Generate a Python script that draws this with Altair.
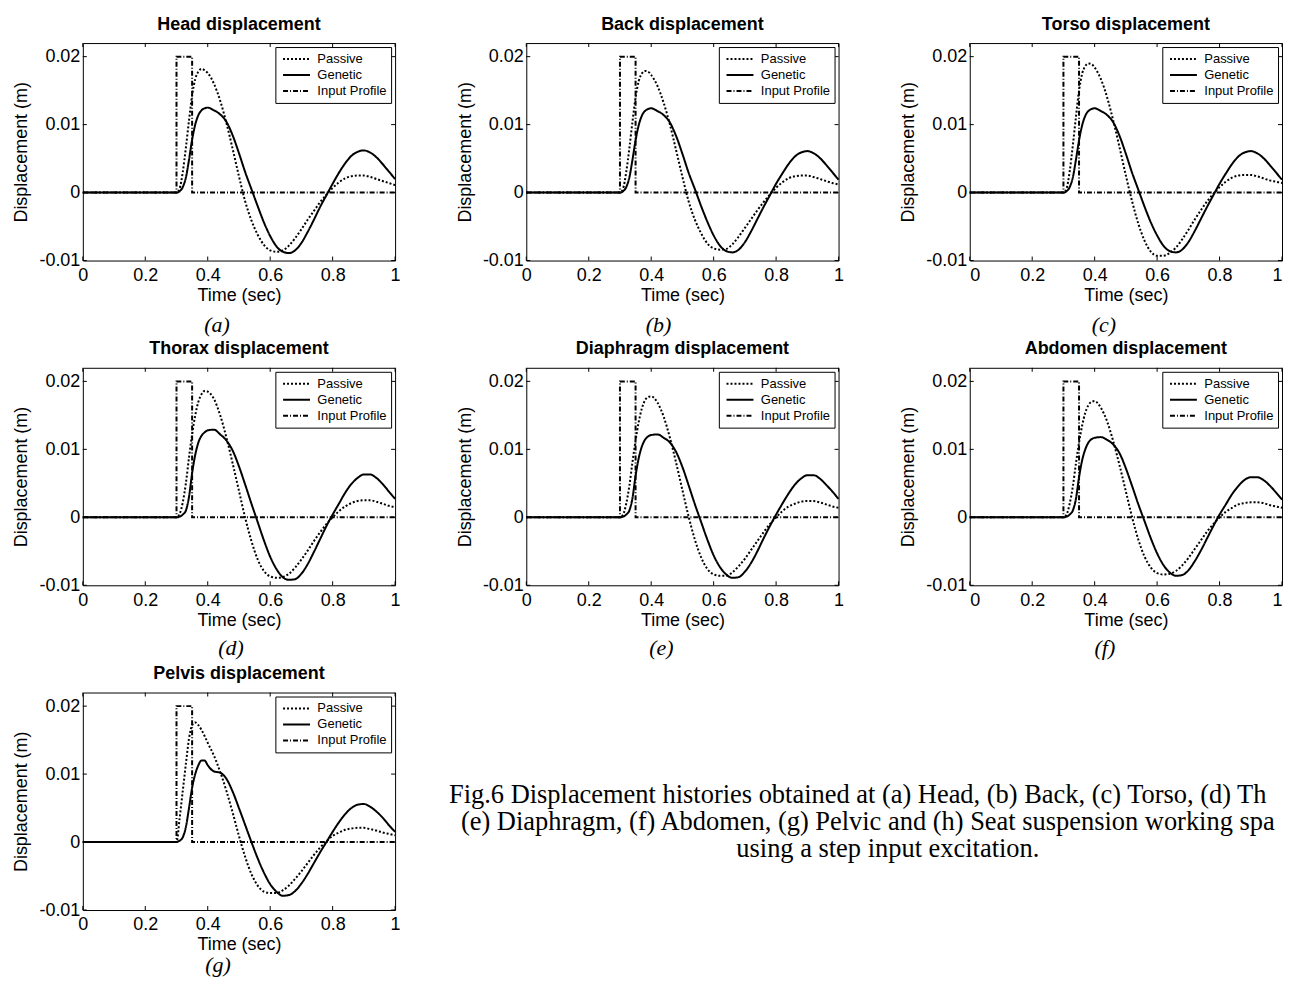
import altair as alt
import pandas as pd

# ---------------- data ----------------
T = [0.0, 0.30, 0.31, 0.32, 0.33, 0.34, 0.35, 0.36, 0.37, 0.38, 0.39, 0.40,
     0.42, 0.44, 0.46, 0.48, 0.50, 0.52, 0.54, 0.56, 0.58, 0.60, 0.62, 0.64,
     0.66, 0.68, 0.70, 0.72, 0.74, 0.76, 0.78, 0.80, 0.82, 0.84, 0.86, 0.88,
     0.90, 0.92, 0.94, 0.96, 0.98, 1.00]

head_passive = [0, 0, 0.0006, 0.0030, 0.0066, 0.0106, 0.0143, 0.0167, 0.0178, 0.0182, 0.0180, 0.0176,
                0.0160, 0.0135, 0.0102, 0.0064, 0.0024, -0.0013, -0.0041, -0.0062, -0.0077, -0.0085, -0.0087, -0.0085,
                -0.0078, -0.0067, -0.0054, -0.0040, -0.0027, -0.0014, -0.0003, 0.0007, 0.0015, 0.0021, 0.0024, 0.0025,
                0.0025, 0.0023, 0.0020, 0.0017, 0.0014, 0.0011]
head_genetic = [0, 0, 0.0002, 0.0008, 0.0022, 0.0048, 0.0078, 0.0100, 0.0114, 0.0121, 0.0124, 0.0125,
                0.0121, 0.0115, 0.0104, 0.0084, 0.0058, 0.0030, 0.0005, -0.0020, -0.0044, -0.0064, -0.0079, -0.0087,
                -0.0089, -0.0085, -0.0074, -0.0058, -0.0040, -0.0021, -0.0004, 0.0013, 0.0029, 0.0043, 0.0054, 0.0060,
                0.0062, 0.0059, 0.0052, 0.0042, 0.0031, 0.0020]

back_passive = [0, 0, 0.0006, 0.0030, 0.0065, 0.0104, 0.0140, 0.0164, 0.0175, 0.0179, 0.0178, 0.0173,
                0.0157, 0.0132, 0.0100, 0.0062, 0.0023, -0.0013, -0.0040, -0.0060, -0.0075, -0.0082, -0.0084, -0.0083,
                -0.0076, -0.0065, -0.0052, -0.0039, -0.0026, -0.0014, -0.0003, 0.0007, 0.0015, 0.0021, 0.0024, 0.0025,
                0.0025, 0.0023, 0.0020, 0.0017, 0.0014, 0.0012]
back_genetic = [0, 0, 0.0002, 0.0008, 0.0022, 0.0048, 0.0077, 0.0099, 0.0113, 0.0120, 0.0123, 0.0124,
                0.0120, 0.0114, 0.0103, 0.0083, 0.0057, 0.0029, 0.0005, -0.0020, -0.0043, -0.0063, -0.0078, -0.0086,
                -0.0088, -0.0084, -0.0073, -0.0057, -0.0039, -0.0021, -0.0004, 0.0013, 0.0028, 0.0042, 0.0053, 0.0059,
                0.0061, 0.0058, 0.0051, 0.0041, 0.0030, 0.0019]

torso_passive = [0, 0, 0.0006, 0.0031, 0.0069, 0.0111, 0.0150, 0.0175, 0.0186, 0.0190, 0.0189, 0.0184,
                 0.0167, 0.0140, 0.0105, 0.0066, 0.0025, -0.0013, -0.0046, -0.0071, -0.0087, -0.0093, -0.0093, -0.0089,
                 -0.0081, -0.0069, -0.0055, -0.0040, -0.0026, -0.0013, -0.0002, 0.0008, 0.0016, 0.0022, 0.0025, 0.0026,
                 0.0026, 0.0024, 0.0021, 0.0018, 0.0016, 0.0014]
torso_genetic = [0, 0, 0.0002, 0.0008, 0.0022, 0.0048, 0.0077, 0.0099, 0.0113, 0.0120, 0.0123, 0.0124,
                 0.0120, 0.0114, 0.0103, 0.0083, 0.0057, 0.0029, 0.0004, -0.0021, -0.0044, -0.0063, -0.0078, -0.0086,
                 -0.0088, -0.0084, -0.0073, -0.0057, -0.0039, -0.0021, -0.0004, 0.0013, 0.0028, 0.0042, 0.0053, 0.0059,
                 0.0061, 0.0058, 0.0051, 0.0041, 0.0030, 0.0019]

thorax_passive = [0, 0, 0.0005, 0.0022, 0.0050, 0.0088, 0.0122, 0.0150, 0.0170, 0.0181, 0.0186, 0.0185,
                  0.0174, 0.0150, 0.0117, 0.0079, 0.0039, -0.0001, -0.0035, -0.0062, -0.0079, -0.0087, -0.0089, -0.0088,
                  -0.0083, -0.0074, -0.0062, -0.0049, -0.0035, -0.0022, -0.0010, 0.0000, 0.0009, 0.0016, 0.0021, 0.0024,
                  0.0025, 0.0025, 0.0023, 0.0020, 0.0017, 0.0015]
thorax_genetic = [0, 0, 0.0001, 0.0004, 0.0010, 0.0030, 0.0065, 0.0092, 0.0110, 0.0120, 0.0125, 0.0128,
                  0.0129, 0.0122, 0.0113, 0.0098, 0.0075, 0.0048, 0.0020, -0.0007, -0.0034, -0.0058, -0.0076, -0.0088,
                  -0.0092, -0.0091, -0.0083, -0.0069, -0.0051, -0.0032, -0.0013, 0.0004, 0.0020, 0.0036, 0.0049, 0.0058,
                  0.0063, 0.0063, 0.0058, 0.0049, 0.0038, 0.0027]

diaphragm_passive = [0, 0, 0.0004, 0.0020, 0.0046, 0.0081, 0.0113, 0.0140, 0.0160, 0.0172, 0.0177, 0.0178,
                     0.0169, 0.0148, 0.0117, 0.0080, 0.0040, 0.0001, -0.0033, -0.0059, -0.0076, -0.0084, -0.0086, -0.0086,
                     -0.0081, -0.0072, -0.0061, -0.0048, -0.0035, -0.0022, -0.0010, 0.0000, 0.0009, 0.0016, 0.0020, 0.0023,
                     0.0024, 0.0024, 0.0022, 0.0019, 0.0016, 0.0014]
diaphragm_genetic = [0, 0, 0.0001, 0.0004, 0.0010, 0.0028, 0.0061, 0.0087, 0.0104, 0.0114, 0.0119, 0.0121,
                     0.0122, 0.0117, 0.0110, 0.0096, 0.0074, 0.0047, 0.0019, -0.0007, -0.0033, -0.0056, -0.0073, -0.0084,
                     -0.0089, -0.0088, -0.0080, -0.0067, -0.0050, -0.0031, -0.0013, 0.0004, 0.0020, 0.0035, 0.0048, 0.0057,
                     0.0062, 0.0062, 0.0057, 0.0048, 0.0038, 0.0027]

abdomen_passive = [0, 0, 0.0004, 0.0020, 0.0045, 0.0079, 0.0110, 0.0135, 0.0154, 0.0165, 0.0170, 0.0171,
                   0.0161, 0.0141, 0.0111, 0.0076, 0.0038, 0.0000, -0.0033, -0.0058, -0.0074, -0.0082, -0.0084, -0.0083,
                   -0.0079, -0.0071, -0.0060, -0.0047, -0.0034, -0.0021, -0.0010, 0.0000, 0.0008, 0.0014, 0.0019, 0.0021,
                   0.0022, 0.0022, 0.0021, 0.0018, 0.0016, 0.0014]
abdomen_genetic = [0, 0, 0.0001, 0.0004, 0.0010, 0.0027, 0.0059, 0.0084, 0.0100, 0.0110, 0.0115, 0.0117,
                   0.0118, 0.0114, 0.0107, 0.0094, 0.0072, 0.0046, 0.0019, -0.0006, -0.0031, -0.0053, -0.0070, -0.0081,
                   -0.0086, -0.0085, -0.0078, -0.0065, -0.0049, -0.0031, -0.0013, 0.0004, 0.0019, 0.0034, 0.0046, 0.0055,
                   0.0059, 0.0059, 0.0055, 0.0047, 0.0037, 0.0026]

pelvis_passive = [0, 0, 0.0035, 0.0075, 0.0115, 0.0152, 0.0172, 0.0176, 0.0172, 0.0165, 0.0156, 0.0146,
                  0.0127, 0.0103, 0.0075, 0.0043, 0.0009, -0.0022, -0.0047, -0.0064, -0.0073, -0.0075, -0.0075, -0.0071,
                  -0.0064, -0.0054, -0.0043, -0.0031, -0.0019, -0.0008, 0.0001, 0.0009, 0.0014, 0.0018, 0.0020, 0.0021,
                  0.0021, 0.0019, 0.0017, 0.0014, 0.0012, 0.0010]
pelvis_genetic = [0, 0, 0.0002, 0.0007, 0.0022, 0.0050, 0.0080, 0.0100, 0.0113, 0.0120, 0.0120, 0.0113,
                  0.0104, 0.0102, 0.0093, 0.0074, 0.0050, 0.0025, 0.0000, -0.0024, -0.0045, -0.0062, -0.0073, -0.0079,
                  -0.0078, -0.0072, -0.0061, -0.0047, -0.0031, -0.0015, 0.0000, 0.0015, 0.0029, 0.0041, 0.0050, 0.0055,
                  0.0056, 0.0052, 0.0045, 0.0036, 0.0025, 0.0015]

INPUT_T = [0.0, 0.30, 0.30, 0.35, 0.35, 1.0]
INPUT_Y = [0.0, 0.0, 0.02, 0.02, 0.0, 0.0]

SERIES = ["Passive", "Genetic", "Input Profile"]
XTICKS = [0, 0.2, 0.4, 0.6, 0.8, 1.0]
YTICKS = [-0.01, 0, 0.01, 0.02]

TITLES = ["Head displacement", "Back displacement", "Torso displacement",
          "Thorax displacement", "Diaphragm displacement", "Abdomen displacement",
          "Pelvis displacement"]
LETTERS = ["(a)", "(b)", "(c)", "(d)", "(e)", "(f)", "(g)"]
PASSIVE = [head_passive, back_passive, torso_passive, thorax_passive,
           diaphragm_passive, abdomen_passive, pelvis_passive]
GENETIC = [head_genetic, back_genetic, torso_genetic, thorax_genetic,
           diaphragm_genetic, abdomen_genetic, pelvis_genetic]

CAPTION_LINES = [
    "Fig.6 Displacement histories obtained at (a) Head, (b) Back, (c) Torso, (d) Thorax,",
    "(e) Diaphragm, (f) Abdomen, (g) Pelvic and (h) Seat suspension working space",
    "using a step input excitation.",
]

# ---------------- layout ----------------
W, H = 313, 218
SANS = "Liberation Sans"
SERIF = "Liberation Serif"
PAGE_RIGHT = 1283      # where the caption lines are cut (page px)
PANEL_G_LEFT = 83      # page x of panel (g) plot area
CAP_X = [450, 462, 738]   # page x where each caption line starts
CAP_Y = [111, 138, 165]   # baseline of each line, relative to panel (g) top
LETTER_DX = [-22, -24, -22, -8, -21, -21, -21]   # sub-figure label offsets
LETTER_DY = [65, 65, 65, 63, 63, 63, 55]

xscale = alt.Scale(domain=[0, 1], nice=False, zero=False)
yscale = alt.Scale(domain=[-0.01, 0.022], nice=False, zero=False)

dash_scale = alt.Scale(domain=SERIES, range=[[2, 2], [1, 0], [5, 2, 1, 2]])
width_scale = alt.Scale(domain=SERIES, range=[2, 2, 1])

leg = alt.Legend(title=None, orient="top-right", offset=4, strokeColor="black",
                 fillColor="white", padding=4, symbolType="stroke", symbolSize=729,
                 symbolStrokeColor="black", labelFont=SANS, labelFontSize=13,
                 labelColor="black", rowPadding=0, clipHeight=16,
                 symbolOffset=2.7, labelOffset=6.4)


def make_x(col):
    ax = alt.Axis(values=XTICKS, format="~g", title="Time (sec)",
                  labelPadding=6, titlePadding=2,
                  labelFlush=(col == 2))
    return lambda: alt.X("t:Q", scale=xscale, axis=ax)


YAXIS = alt.Axis(values=YTICKS, labelExpr="toString(datum.value)",
                 title="Displacement (m)", labelPadding=3, titlePadding=8)


def Y():
    return alt.Y("y:Q", scale=yscale, axis=YAXIS)


def panel(idx, with_caption=False):
    X = make_x(idx % 3)
    rows = []
    for t, p, g in zip(T, PASSIVE[idx], GENETIC[idx]):
        rows.append({"t": t, "y": p, "series": "Passive"})
        rows.append({"t": t, "y": g, "series": "Genetic"})
    curves = pd.DataFrame(rows)
    inp = pd.DataFrame({"t": INPUT_T, "y": INPUT_Y, "series": "Input Profile",
                        "k": list(range(len(INPUT_T)))})

    input_line = alt.Chart(inp).mark_line(color="black").encode(
        x=X(), y=Y(), order="k:Q",
        strokeDash=alt.StrokeDash("series:N", scale=dash_scale, legend=leg),
        strokeWidth=alt.StrokeWidth("series:N", scale=width_scale, legend=leg),
    )
    lines = alt.Chart(curves).mark_line(color="black", interpolate="monotone").encode(
        x=X(), y=Y(),
        strokeDash=alt.StrokeDash("series:N", scale=dash_scale, legend=leg),
        strokeWidth=alt.StrokeWidth("series:N", scale=width_scale, legend=leg),
    )

    xt = pd.DataFrame({"t": XTICKS})
    yt = pd.DataFrame({"y": YTICKS})
    tb = alt.Chart(xt).mark_rule(color="black", strokeWidth=1).encode(
        x=X(), y=alt.value(H), y2=alt.value(H - 4))
    tt = alt.Chart(xt).mark_rule(color="black", strokeWidth=1).encode(
        x=X(), y=alt.value(0), y2=alt.value(4))
    tl = alt.Chart(yt).mark_rule(color="black", strokeWidth=1).encode(
        y=Y(), x=alt.value(0), x2=alt.value(4))
    tr = alt.Chart(yt).mark_rule(color="black", strokeWidth=1).encode(
        y=Y(), x=alt.value(W), x2=alt.value(W - 4))

    lab = alt.Chart(pd.DataFrame({"lab": [LETTERS[idx]]})).mark_text(
        font=SERIF, fontSize=22, fontStyle="italic", color="black",
        align="center", baseline="middle").encode(
        text="lab:N", x=alt.value(W / 2 + LETTER_DX[idx]),
        y=alt.value(H + LETTER_DY[idx]))

    layers = [input_line, lines, tb, tt, tl, tr, lab]
    if with_caption:
        for line, cx, cy in zip(CAPTION_LINES, CAP_X, CAP_Y):
            cap = alt.Chart(pd.DataFrame({"cap": [line]})).mark_text(
                font=SERIF, fontSize=26.5, color="black", align="left",
                baseline="alphabetic", limit=PAGE_RIGHT - cx,
                ellipsis="\u200b").encode(
                text="cap:N", x=alt.value(cx - PANEL_G_LEFT), y=alt.value(cy))
            layers.append(cap)

    return alt.layer(*layers).properties(
        width=W, height=H,
        title=alt.Title(TITLES[idx], font=SANS, fontSize=18, fontWeight="bold",
                        color="black", anchor="middle", frame="group",
                        baseline="alphabetic", offset=-5),
    )


panels = [panel(i, with_caption=(i == 6)) for i in range(7)]

chart = alt.concat(
    *panels, columns=3, spacing={"row": 107.5, "column": 131.5}, bounds="flush"
).resolve_scale(
    strokeDash="independent", strokeWidth="independent"
).resolve_legend(
    strokeDash="independent", strokeWidth="independent"
).properties(
    padding={"left": 4, "top": 6, "right": 0, "bottom": 0},
    background="white",
).configure_view(
    stroke="black", strokeWidth=1
).configure_axis(
    labelFont=SANS, titleFont=SANS, labelFontSize=18, titleFontSize=18,
    titleFontWeight="normal", labelColor="black", titleColor="black",
    domain=False, ticks=False, tickSize=0, grid=False
)

chart.save("out.html", embed_options={"renderer": "svg", "actions": False})
